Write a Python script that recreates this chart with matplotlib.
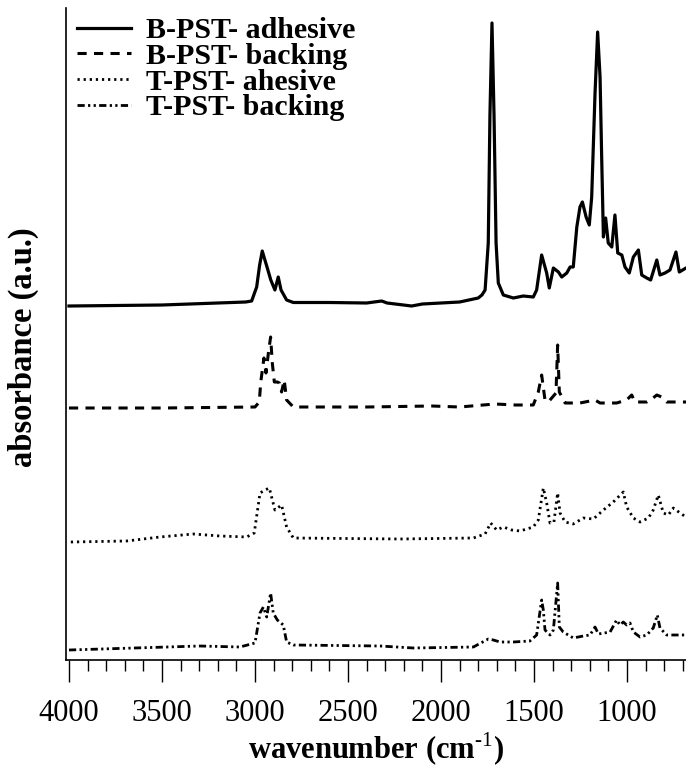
import matplotlib.pyplot as plt
import numpy as np

plt.rcParams['font.family'] = ['Liberation Serif', 'DejaVu Serif']
plt.rcParams['mathtext.fontset'] = 'custom'
plt.rcParams['mathtext.rm'] = 'Liberation Serif'
plt.rcParams['mathtext.bf'] = 'Liberation Serif:bold'

labels = ["B-PST- adhesive", "B-PST- backing", "T-PST- ahesive", "T-PST- backing"]

# B-PST adhesive
wn1 = [4000, 3500, 3200, 3050, 3018, 2991, 2975, 2961, 2950, 2937, 2915, 2893, 2875, 2860, 2830,
       2794, 2600, 2400, 2319, 2290, 2158, 2100, 2000, 1900, 1800, 1780, 1763, 1746, 1737, 1726,
       1715, 1704, 1692, 1665, 1611, 1558, 1504, 1486, 1459, 1432, 1418, 1396, 1369, 1351, 1324,
       1306, 1289, 1270, 1253, 1240, 1220, 1203, 1190, 1172, 1158, 1145, 1136, 1127, 1115, 1101,
       1082, 1065, 1050, 1028, 1011, 988, 966, 939, 921, 894, 873, 840, 823, 796, 769, 737, 719, 683]
ab1 = [-0.01, 0.0, 0.02, 0.03, 0.04, 0.18, 0.40, 0.54, 0.47, 0.39, 0.25, 0.15, 0.28, 0.15, 0.05,
       0.025, 0.025, 0.02, 0.04, 0.02, -0.01, 0.01, 0.02, 0.03, 0.07, 0.10, 0.15, 0.62, 1.90, 2.82,
       1.90, 0.62, 0.22, 0.10, 0.07, 0.09, 0.08, 0.15, 0.50, 0.32, 0.17, 0.37, 0.33, 0.28, 0.32,
       0.38, 0.38, 0.78, 0.98, 1.03, 0.88, 0.80, 1.08, 2.12, 2.73, 2.28, 1.45, 0.68, 0.87, 0.62,
       0.58, 0.90, 0.52, 0.50, 0.38, 0.32, 0.48, 0.55, 0.30, 0.27, 0.25, 0.45, 0.30, 0.32, 0.35, 0.53, 0.33, 0.37]

# B-PST backing
wn2 = [4000, 3500, 3000, 2977, 2969, 2952, 2941, 2928, 2916, 2907, 2896, 2880, 2869, 2857, 2843,
       2830, 2794, 2400, 2050, 1900, 1710, 1600, 1504, 1477, 1459, 1441, 1423, 1382, 1373, 1364,
       1333, 1253, 1172, 1145, 1056, 1002, 975, 957, 894, 867, 840, 814, 787, 683]
ab2 = [0.0, 0.0, 0.01, 0.06, 0.26, 0.50, 0.35, 0.55, 0.71, 0.45, 0.26, 0.26, 0.25, 0.16, 0.28,
       0.08, 0.01, 0.01, 0.02, 0.01, 0.04, 0.03, 0.03, 0.16, 0.33, 0.08, 0.06, 0.15, 0.63, 0.16,
       0.05, 0.05, 0.08, 0.05, 0.05, 0.08, 0.13, 0.06, 0.06, 0.09, 0.13, 0.11, 0.06, 0.06]

# T-PST adhesive
wn3 = [3990, 3690, 3511, 3332, 3188, 3045, 3004, 2973, 2946, 2923, 2893, 2857, 2830, 2794, 2221,
       1826, 1763, 1733, 1701, 1665, 1620, 1575, 1504, 1477, 1450, 1432, 1414, 1393, 1373, 1360,
       1333, 1289, 1235, 1181, 1127, 1074, 1020, 1002, 966, 930, 885, 859, 832, 805, 778, 751, 715, 683]
ab3 = [-0.02, -0.01, 0.03, 0.06, 0.04, 0.03, 0.07, 0.47, 0.50, 0.52, 0.30, 0.35, 0.13, 0.02, 0.01,
       0.02, 0.06, 0.17, 0.10, 0.13, 0.10, 0.09, 0.13, 0.20, 0.52, 0.37, 0.17, 0.18, 0.47, 0.27,
       0.18, 0.16, 0.22, 0.21, 0.30, 0.38, 0.48, 0.33, 0.22, 0.18, 0.22, 0.30, 0.45, 0.27, 0.25, 0.32, 0.27, 0.23]

# T-PST backing
wn4 = [4000, 3296, 3081, 3000, 2973, 2955, 2937, 2916, 2902, 2880, 2848, 2830, 2794, 2328, 2149,
       1826, 1746, 1719, 1683, 1611, 1522, 1486, 1459, 1450, 1441, 1414, 1396, 1373, 1364, 1343,
       1289, 1235, 1199, 1172, 1154, 1091, 1056, 1038, 1020, 1002, 984, 966, 930, 894, 859, 837, 823, 787, 683]
ab4 = [-0.02, 0.02, 0.01, 0.05, 0.35, 0.41, 0.31, 0.55, 0.35, 0.28, 0.23, 0.06, 0.03, 0.02, 0.0,
       0.01, 0.09, 0.08, 0.06, 0.06, 0.07, 0.13, 0.48, 0.38, 0.18, 0.13, 0.18, 0.65, 0.21, 0.16,
       0.10, 0.12, 0.13, 0.21, 0.14, 0.16, 0.28, 0.23, 0.26, 0.23, 0.25, 0.16, 0.11, 0.13, 0.20, 0.33, 0.20, 0.13, 0.13]

offsets = [3.55, 2.52, 1.20, 0.12]

fig = plt.figure(figsize=(6.86, 7.71), dpi=100)
ax = fig.add_axes([66/686, 1 - 660/771, 620/686, 652/771])

ax.plot(wn1, np.array(ab1) + offsets[0], color="black", lw=2.3, ls="-", label=labels[0])
ax.plot(wn2, np.array(ab2) + offsets[1], color="black", lw=2.2, dashes=(3, 2.4), label=labels[1])
ax.plot(wn3, np.array(ab3) + offsets[2], color="black", lw=2.0, dashes=(0.8, 1.4), label=labels[2])
ax.plot(wn4, np.array(ab4) + offsets[3], color="black", lw=2.0,
        dashes=(2.6, 1.2, 0.8, 1.2, 0.8, 1.2), label=labels[3])

ax.set_xlim(4016, 683)
ax.set_ylim(0, 6.52)
ax.set_xticks([4000, 3500, 3000, 2500, 2000, 1500, 1000])
ax.set_xticks(np.arange(700, 4001, 100), minor=True)
ax.tick_params(axis="x", which="major", direction="out", length=16, width=1, labelsize=22, pad=12)
ax.tick_params(axis="x", which="minor", direction="out", length=8, width=1)
ax.set_yticks([])

for s in ["top", "right"]:
    ax.spines[s].set_visible(False)
ax.spines["left"].set_linewidth(1.2)
ax.spines["bottom"].set_linewidth(1.2)

ax.set_xlabel("wavenumber (cm$^{\\mathbf{\\text{-1}}}$)", fontsize=22, fontweight="bold", labelpad=2)
ax.set_ylabel("absorbance (a.u.)", fontsize=23.5, fontweight="bold")
ax.yaxis.set_label_coords(-0.043, 0.48)

plt.legend(loc="upper left", bbox_to_anchor=(11/620, 1 - 9/652), frameon=False,
           prop={"weight": "bold", "size": 21.5}, handlelength=1.8, handletextpad=0.5,
           labelspacing=-0.04, borderpad=0, borderaxespad=0)

plt.savefig("out.png", dpi=100)
